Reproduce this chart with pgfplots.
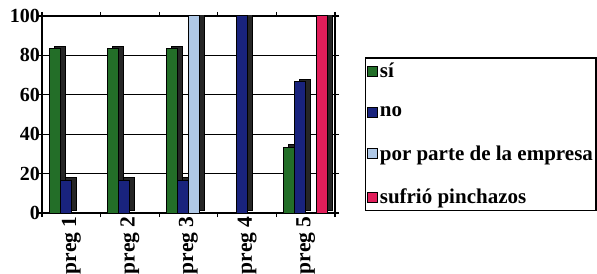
\documentclass[border=0pt]{standalone}
\usepackage{fontspec}
\setmainfont{Liberation Serif}
\usepackage{pgfplots}
\pgfplotsset{compat=1.18}
\definecolor{cSi}{RGB}{35,110,40}
\definecolor{cNo}{RGB}{25,35,125}
\definecolor{cEmp}{RGB}{175,200,230}
\definecolor{cSuf}{RGB}{225,30,90}
\pgfplotsset{
  front/.style={fill=#1, draw=black, line width=1bp},
  shade/.style={fill=black!85, draw=black, line width=1bp, forget plot, xshift=5bp, yshift=2.5bp},
}
\begin{document}
\begin{tikzpicture}
\useasboundingbox (-42bp,-61bp) rectangle (555bp,213bp);
\begin{axis}[
  scale only axis, width=293bp, height=197bp,
  ybar, bar width=11bp,
  xmin=-0.5, xmax=4.5, ymin=0, ymax=100,
  xtick={-0.5,0.5,1.5,2.5,3.5,4.5}, xticklabels={},
  extra x ticks={0,1,2,3,4},
  extra x tick labels={preg 1,preg 2,preg 3,preg 4,preg 5},
  extra x tick style={major tick length=0pt, tick label style={rotate=90, anchor=east}},
  ytick={0,20,...,100},
  ymajorgrids, major grid style={black, line width=1.3bp},
  axis line style={black, line width=1.5bp},
  tick style={black, line width=1.3bp},
  tick align=outside, major tick length=4bp,
  ticklabel style={font=\fontsize{21.5bp}{24bp}\selectfont\bfseries},
  yticklabel style={font=\fontsize{20bp}{24bp}\selectfont\bfseries, inner xsep=0bp, xshift=2bp},
  yticklabel={\fontsize{20bp}{24bp}\selectfont\bfseries\pgfmathprintnumber{\tick}},
  /pgf/number format/assume math mode=true,
  legend style={at={(1.102,0.79)}, anchor=north west, draw=black, line width=1.5bp,
    font=\fontsize{21bp}{24bp}\selectfont\bfseries, row sep=23.5bp, inner xsep=1bp, inner ysep=3bp},
  legend cell align=left,
  legend image code/.code={\draw[#1, draw=black, line width=1.2bp] (0bp,-5bp) rectangle (10bp,5bp);},
]
\addplot[shade, bar shift=-16.5bp] coordinates {(0,83.3) (1,83.3) (2,83.3) (4,33.3)};
\addplot[front=cSi, bar shift=-16.5bp] coordinates {(0,83.3) (1,83.3) (2,83.3) (4,33.3)};
\addplot[shade, bar shift=-5.5bp] coordinates {(0,16.7) (1,16.7) (2,16.7) (3,100) (4,66.7)};
\addplot[front=cNo, bar shift=-5.5bp] coordinates {(0,16.7) (1,16.7) (2,16.7) (3,100) (4,66.7)};
\addplot[shade, bar shift=5.5bp] coordinates {(2,100)};
\addplot[front=cEmp, bar shift=5.5bp] coordinates {(2,100)};
\addplot[shade, bar shift=16.5bp] coordinates {(4,100)};
\addplot[front=cSuf, bar shift=16.5bp] coordinates {(4,100)};
\legend{sí, no, por parte de la empresa, sufrió pinchazos}
\end{axis}
\end{tikzpicture}
\end{document}
